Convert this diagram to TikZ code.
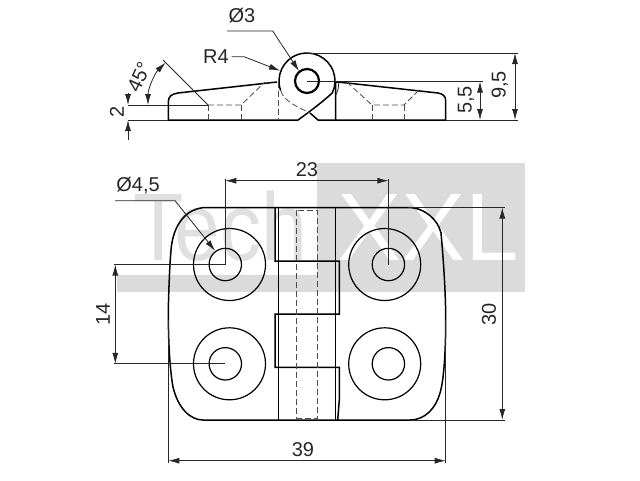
\documentclass[tikz,border=0pt]{standalone}
\usepackage{fontspec}
\setmainfont{Liberation Sans}
\usetikzlibrary{arrows.meta}
\begin{document}
\begin{tikzpicture}[x=1pt,y=-1pt]
        \tikzstyle{outline}=[draw=black,line width=1.5pt]
        \tikzstyle{thinline}=[draw=black!85,line width=0.8pt]
        \tikzstyle{hidden}=[draw=black!70,line width=0.8pt,dash pattern=on 6pt off 3pt]
        \tikzstyle{dim}=[draw=black!85,line width=0.8pt,{Latex[length=11pt,width=6pt]}-{Latex[length=11pt,width=6pt]}]
        \tikzstyle{lead}=[draw=black!85,line width=0.8pt,-{Latex[length=11pt,width=6pt]}]
        \tikzstyle{label}=[font=\fontsize{20}{22}\selectfont,text=black!85,inner sep=0pt]
        \useasboundingbox (0,0) rectangle (640,480);
        % watermark
        \fill[black!14] (317,163) rectangle (525,292);
        \fill[black!14] (117,275) rectangle (317,292);
        \node [font=\fontsize{96}{96}\selectfont,text=black!12,inner sep=0pt,anchor=base west,xscale=0.86] (tech) at (133,260) {Tech};
        \node [font=\fontsize{96}{96}\selectfont,text=white,inner sep=0pt,anchor=base west] (xxl) at (337,260) {XXL};
        % side view
        \coordinate (pin) at (307,81);
        \path[outline] (pin) ++(-200:28) arc (-200:25:28) .. controls (326,99) and (312,110) .. (298,120) -- (168.3,120) -- (168.3,102) .. controls (168.3,96) and (172,94) .. (178,93) -- (277,82);
        \path[outline] (310,113) -- (318,120) -- (445.7,120) -- (445.7,101) .. controls (445.7,96) and (443,94) .. (438,93) -- (338,82) -- (335.7,82) -- (335.7,120);
        \path[thinline] (338.7,83) .. controls (338.7,88) and (337.5,92) .. (335.7,95);
        \path[outline,line width=2.2pt] (pin) circle (12);
        \path[hidden] (280.7,90.6) .. controls (284,102) and (300,108) .. (310,113);
        \path[hidden] (278,82) -- (278,120);
        \path[hidden] (208,105) -- (241,105) -- (265,82);
        \path[hidden] (208,105) -- (208,120);
        \path[hidden] (241,105) -- (241,120);
        \path[hidden] (346.7,82) -- (372,105) -- (404,105) -- (419,90);
        \path[hidden] (372,105) -- (372,120);
        \path[hidden] (404,105) -- (404,120);
        % top view
        \path[outline] (206.7,207.5) -- (408,207.5) .. controls (425,207.5) and (438,220) .. (441,233) .. controls (443,255) and (445.7,290) .. (445.7,320) .. controls (445.7,350) and (444,380) .. (440,393) .. controls (436,408) and (425,420) .. (410,420) -- (203,420) .. controls (190,420) and (178,408) .. (173,387) .. controls (170,370) and (168.3,345) .. (168.3,310) .. controls (169,280) and (170,262) .. (171,250) .. controls (173,225) and (186,207.5) .. (206.7,207.5) -- cycle;
        \foreach \xa/\xb/\yy/\nm in {229.5/225.3/264.5/a,384.7/388.4/264.5/b,229.5/225.3/363.8/c,384.7/388.4/363.8/d} {
          \path[outline,line width=1.2pt] (\xa,\yy) circle (36);
          \path[outline,line width=1.2pt] (\xb,\yy) circle (16.2);
          \coordinate (hole\nm) at (\xb,\yy);
        }
        % hinge
        \path[outline] (278.7,207.5) -- (278.7,420);
        \path[outline] (335.5,207.5) -- (335.5,420);
        \path[outline] (275,207.5) -- (275,261) -- (339.3,261) -- (339.3,314) -- (275,314) -- (275,367.3) -- (339.3,367.3) -- (339.3,400) -- (337.7,420);
        \path[hidden] (296.5,210) -- (296.5,418) -- (317.3,418) -- (317.3,210) -- cycle;
        % dimensions, side view
        \coordinate (d2a) at (128,105);
        \coordinate (d2b) at (128,120);
        \path[thinline] (d2a) -- (208,105);
        \path[thinline] (d2b) -- (168.3,120);
        \path[lead] (128,93) -- (d2a);
        \path[lead] (128,140) -- (d2b);
        \node [label,rotate=90] (two) at (117,112) {2};
        \coordinate (ang) at (208,105);
        \path[thinline] (163,60) -- (ang);
        \path[dim] (ang) ++(180:60) arc (-180:-135:60);
        \node [label,rotate=65] (angle) at (139,77) {45°};
        \path[thinline] (pin) -- (483,81);
        \path[thinline] (307,53) -- (518,53);
        \path[thinline] (445.7,120) -- (518,120);
        \path[dim] (480,81.5) -- (480,120);
        \path[dim] (515,53) -- (515,120);
        \node [label,rotate=90] (fivefive) at (466,100) {5,5};
        \node [label,rotate=90] (ninefive) at (500,85) {9,5};
        \node [label] (phithree) at (242,16) {Ø3};
        \path[lead] (227,31) -- (272.7,31) -- (299,71);
        \node [label] (rfour) at (216,57) {R4};
        \path[lead] (231.7,56.7) -- (244,56.7) -- (280,70.7);
        % dimensions, top view
        \node [label] (phifour) at (138,186) {Ø4,5};
        \path[lead] (115,200.7) -- (175,200.7) -- (215,250.7);
        \path[thinline] (holea) -- (225.3,179);
        \path[thinline] (holeb) -- (388.4,179);
        \path[dim] (225.3,180.7) -- (388.4,180.7);
        \node [label] (twothree) at (307,170) {23};
        \path[thinline] (holea) -- (114,264.5);
        \path[thinline] (holec) -- (114,363.8);
        \path[dim] (115.3,264.5) -- (115.3,363.8);
        \node [label,rotate=90] (onefour) at (103,314) {14};
        \path[thinline] (408,207.5) -- (505,207.5);
        \path[thinline] (410,420) -- (505,420);
        \path[dim] (502.3,207.5) -- (502.3,420);
        \node [label,rotate=90] (threezero) at (489,314) {30};
        \path[thinline] (168.3,320) -- (168.3,463);
        \path[thinline] (445.7,320) -- (445.7,463);
        \path[dim] (168.3,460.7) -- (445.7,460.7);
        \node [label] (threenine) at (303,450) {39};
\end{tikzpicture}
\end{document}
